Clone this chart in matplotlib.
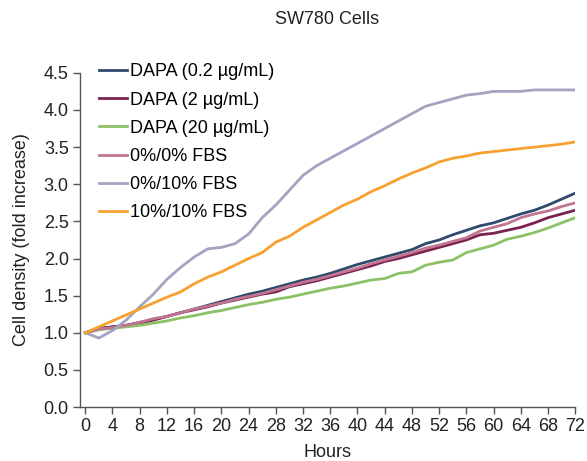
import numpy as np
import matplotlib.pyplot as plt

#data region
hours = np.arange(0, 73, 2)

dapa_02 = [1.0, 1.06, 1.08, 1.10, 1.14, 1.18, 1.22, 1.27, 1.32, 1.37, 1.42, 1.47, 1.52,
           1.56, 1.61, 1.66, 1.71, 1.75, 1.80, 1.86, 1.92, 1.97, 2.02, 2.07, 2.12, 2.20,
           2.25, 2.32, 2.38, 2.44, 2.48, 2.54, 2.60, 2.65, 2.72, 2.80, 2.88]
dapa_2 = [1.0, 1.05, 1.08, 1.10, 1.13, 1.17, 1.22, 1.27, 1.31, 1.35, 1.40, 1.44, 1.48,
          1.52, 1.55, 1.62, 1.66, 1.70, 1.75, 1.80, 1.85, 1.90, 1.96, 2.00, 2.05, 2.10,
          2.15, 2.20, 2.25, 2.32, 2.34, 2.38, 2.42, 2.48, 2.55, 2.60, 2.65]
dapa_20 = [1.0, 1.04, 1.06, 1.08, 1.10, 1.13, 1.16, 1.20, 1.23, 1.27, 1.30, 1.34, 1.38,
           1.41, 1.45, 1.48, 1.52, 1.56, 1.60, 1.63, 1.67, 1.71, 1.73, 1.80, 1.82, 1.91,
           1.95, 1.98, 2.08, 2.13, 2.18, 2.26, 2.30, 2.35, 2.41, 2.48, 2.55]
fbs_0_0 = [1.0, 1.05, 1.07, 1.10, 1.14, 1.19, 1.22, 1.27, 1.32, 1.36, 1.40, 1.45, 1.49,
           1.53, 1.58, 1.63, 1.68, 1.72, 1.77, 1.82, 1.87, 1.93, 1.98, 2.03, 2.08, 2.14,
           2.18, 2.23, 2.28, 2.37, 2.42, 2.47, 2.55, 2.60, 2.64, 2.70, 2.75]
fbs_0_10 = [1.0, 0.93, 1.03, 1.17, 1.35, 1.52, 1.72, 1.88, 2.02, 2.13, 2.15, 2.20, 2.33,
            2.55, 2.72, 2.92, 3.12, 3.25, 3.35, 3.45, 3.55, 3.65, 3.75, 3.85, 3.95, 4.05,
            4.10, 4.15, 4.20, 4.22, 4.25, 4.25, 4.25, 4.27, 4.27, 4.27, 4.27]
fbs_10_10 = [1.0, 1.08, 1.16, 1.24, 1.32, 1.40, 1.48, 1.55, 1.66, 1.75, 1.82, 1.91, 2.00,
             2.08, 2.22, 2.30, 2.42, 2.52, 2.62, 2.72, 2.80, 2.90, 2.98, 3.07, 3.15, 3.22,
             3.30, 3.35, 3.38, 3.42, 3.44, 3.46, 3.48, 3.50, 3.52, 3.54, 3.57]

labels = ["DAPA (0.2 \u00b5g/mL)", "DAPA (2 \u00b5g/mL)", "DAPA (20 \u00b5g/mL)",
          "0%/0% FBS", "0%/10% FBS", "10%/10% FBS"]
colors = ["#2f4a6d", "#7a2352", "#8cc265", "#c27591", "#a3a3c2", "#f8a030"]
#endregion

#plotting region
plt.rcParams['font.family'] = ['Liberation Sans', 'DejaVu Sans']
fs = 13
fig = plt.figure(figsize=(5.87, 4.61), dpi=100)
ax = fig.add_axes([0.136, 0.117, 0.844, 0.725])

for series, lab, col in zip([dapa_02, dapa_2, dapa_20, fbs_0_0, fbs_0_10, fbs_10_10],
                            labels, colors):
    ax.plot(hours, series, color=col, lw=2, label=lab)

ax.set_xlim(-0.8, 72)
ax.set_ylim(0, 4.5)
ax.set_xticks(np.arange(0, 73, 4))
ax.set_yticks(np.arange(0, 4.6, 0.5))
ax.set_yticklabels([f"{v:.1f}" for v in np.arange(0, 4.6, 0.5)])

for s in ['top', 'right']:
    ax.spines[s].set_visible(False)
for s in ['left', 'bottom']:
    ax.spines[s].set_color('#555555')
    ax.spines[s].set_linewidth(1)
ax.tick_params(colors='#555555', labelcolor='#222222', labelsize=fs, length=5, width=1, pad=3)

ax.set_xlabel("Hours", fontsize=fs, color='#222222', labelpad=6)
ax.set_ylabel("Cell density (fold increase)", fontsize=fs, color='#222222', labelpad=10)
fig.text(0.558, 0.958, "SW780 Cells", ha='center', va='center', fontsize=fs, color='#222222')

ax.legend(loc='upper left', bbox_to_anchor=(0.025, 1.05), frameon=False, fontsize=fs,
          handlelength=1.5, handletextpad=0.2, labelspacing=0.62, borderaxespad=0)

plt.savefig("out.png", dpi=100)
#endregion
